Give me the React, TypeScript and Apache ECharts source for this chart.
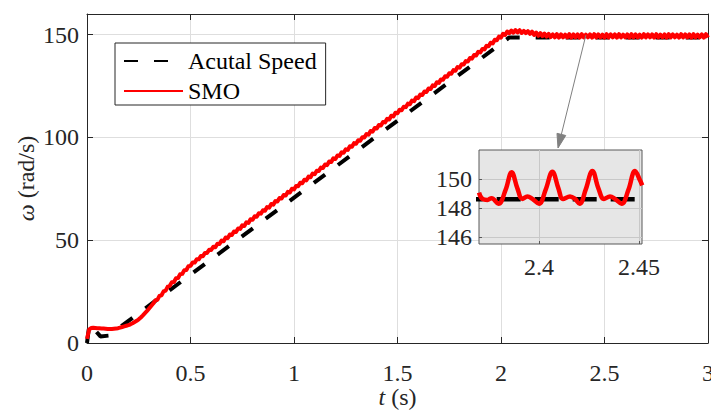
import React, { useEffect, useRef } from "react";
import * as echarts from "echarts";

// Reference speed profile (breakpoints of the commanded/actual speed, rad/s)
const actualTime = [0, 0.012, 0.065, 0.105, 2.04, 3];
const actualSpeed = [0, 9.3, 3.2, 3.6, 148.6, 148.6];

// SMO estimated speed, sampled every 0.01 s from t = 0 to t = 3 s
const smoStep = 0.01;
const smoSpeed = [
  2.0, 6.5, 7.3, 7.4, 7.3, 7.2, 7.2, 7.1, 7.0, 6.9,
  6.8, 6.8, 6.8, 6.9, 7.0, 7.2, 7.5, 7.8, 8.1, 8.4,
  8.7, 9.1, 9.6, 10.2, 10.8, 11.5, 12.4, 13.4, 14.5, 15.6,
  16.8, 18.0, 19.2, 20.7, 21.0, 22.9, 23.2, 25.1, 25.5, 27.4,
  27.8, 29.6, 29.7, 31.5, 31.6, 33.4, 33.6, 35.4, 35.5, 37.3,
  37.5, 39.1, 39.1, 40.7, 40.7, 42.3, 42.2, 43.8, 43.8, 45.3,
  45.2, 46.8, 46.6, 48.3, 48.1, 49.8, 49.5, 51.3, 51.0, 52.8,
  52.5, 54.2, 54.0, 55.7, 55.5, 57.2, 56.9, 58.7, 58.4, 60.2,
  59.9, 61.6, 61.4, 63.1, 62.9, 64.6, 64.3, 66.1, 65.8, 67.6,
  67.3, 69.0, 68.8, 70.5, 70.3, 72.0, 71.7, 73.5, 73.2, 75.0,
  74.7, 76.4, 76.2, 77.9, 77.7, 79.4, 79.1, 80.9, 80.6, 82.4,
  82.1, 83.8, 83.6, 85.3, 85.1, 86.8, 86.5, 88.3, 88.0, 89.8,
  89.5, 91.2, 91.0, 92.7, 92.5, 94.2, 93.9, 95.7, 95.4, 97.2,
  96.9, 98.6, 98.4, 100.1, 99.9, 101.6, 101.3, 103.1, 102.8, 104.6,
  104.3, 106.0, 105.8, 107.5, 107.3, 109.0, 108.7, 110.5, 110.2, 112.0,
  111.7, 113.4, 113.2, 114.9, 114.7, 116.4, 116.1, 117.9, 117.6, 119.4,
  119.1, 120.8, 120.6, 122.3, 122.1, 123.8, 123.5, 125.3, 125.0, 126.8,
  126.5, 128.2, 128.0, 129.7, 129.5, 131.2, 130.9, 132.7, 132.4, 134.2,
  133.9, 135.6, 135.4, 137.1, 136.9, 138.6, 138.3, 140.1, 139.8, 141.6,
  141.3, 143.0, 142.8, 144.5, 144.3, 146.0, 145.7, 147.5, 147.2, 149.0,
  148.5, 150.4, 149.8, 151.5, 150.7, 151.9, 150.9, 152.2, 151.0, 152.1,
  150.8, 151.8, 150.7, 151.7, 150.3, 151.4, 149.8, 151.0, 149.4, 150.7,
  149.2, 150.5, 149.0, 150.3, 148.8, 150.1, 148.6, 150.2, 148.5, 150.1,
  148.6, 150.0, 148.6, 150.2, 148.5, 150.1, 148.6, 150.1, 148.5, 150.2,
  148.6, 150.0, 148.6, 150.1, 148.5, 150.2, 148.6, 150.1, 148.6, 150.0,
  148.5, 150.2, 148.6, 150.1, 148.6, 150.1, 148.5, 150.2, 148.6, 150.0,
  148.6, 150.1, 148.5, 150.2, 148.6, 150.1, 148.6, 150.0, 148.5, 150.2,
  148.6, 150.1, 148.6, 150.1, 148.5, 150.2, 148.6, 150.0, 148.6, 150.1,
  148.5, 150.2, 148.6, 150.1, 148.6, 150.0, 148.5, 150.2, 148.6, 150.1,
  148.6, 150.1, 148.5, 150.2, 148.6, 150.0, 148.6, 150.1, 148.5, 150.2,
  148.6,
];

// Zoomed window 2.37 s .. 2.45 s of the SMO estimate
const insetTime = [
  2.37, 2.3717, 2.3742, 2.3763, 2.3797, 2.3833, 2.3863, 2.3892, 2.3917, 2.3942,
  2.3967, 2.4, 2.4033, 2.4067, 2.4097, 2.412, 2.4155, 2.418, 2.4203, 2.4233,
  2.4267, 2.4297, 2.4325, 2.4355, 2.438, 2.4413, 2.4447, 2.448, 2.4505, 2.4516,
];
const insetSmo = [
  149.06, 148.62, 148.55, 148.67, 148.28, 149.24, 150.46, 149.35, 148.62, 148.78,
  148.62, 148.28, 149.24, 150.5, 149.35, 148.62, 148.78, 148.62, 148.28, 149.24,
  150.55, 149.35, 148.62, 148.78, 148.62, 148.28, 149.24, 150.55, 149.9, 149.55,
];

const insetXTicks = [2.4, 2.45];
const insetYTicks = [146, 148, 150];

const FONT = "Liberation Serif";
const INK = "#262626";

export default function App() {
  const ref = useRef<HTMLDivElement>(null);

  useEffect(() => {
    if (!ref.current) return;
    const chart = echarts.init(ref.current, undefined, { renderer: "svg" });

    const actualData = actualTime.map((t, i) => [t, actualSpeed[i]]);
    const smoData = smoSpeed.map((v, i) => [Math.round(i * smoStep * 1000) / 1000, v]);
    const insetData = insetTime.map((t, i) => [t, insetSmo[i]]);

    const labelStyle = { fontFamily: FONT, fontSize: 24, color: INK };
    const nameRich = {
      i: { fontFamily: FONT, fontSize: 24, fontStyle: "italic", color: INK },
      n: { fontFamily: FONT, fontSize: 24, color: INK },
    };

    const boxAxis = {
      axisLine: { show: true, onZero: false, lineStyle: { color: INK, width: 1 } },
      axisTick: { show: true, inside: true, length: 6, lineStyle: { color: INK, width: 1 } },
    };

    chart.setOption({
      animation: false,
      backgroundColor: "#ffffff",
      textStyle: { fontFamily: FONT },
      grid: [
        { left: 87, right: 3, top: 14, bottom: 67, containLabel: false, outerBoundsMode: "none" },
        {
          left: 479, top: 150, width: 163, height: 94,
          containLabel: false, outerBoundsMode: "none",
          show: true, backgroundColor: "#e6e6e6",
          borderColor: "#595959", borderWidth: 1, z: 1,
        },
      ],
      legend: {
        data: ["Acutal Speed", "SMO"],
        orient: "vertical",
        left: 115,
        top: 43,
        padding: [6, 9, 2, 8],
        itemGap: 6,
        itemWidth: 59,
        itemHeight: 14,
        itemStyle: { opacity: 0 },
        backgroundColor: "#ffffff",
        borderColor: INK,
        borderWidth: 1,
        borderRadius: 0,
        textStyle: { fontFamily: FONT, fontSize: 24, color: "#000000" },
        selectedMode: false,
      },
      xAxis: [
        {
          type: "value", gridIndex: 0, min: 0, max: 3, interval: 0.5, position: "bottom",
          ...boxAxis,
          axisLabel: { ...labelStyle, margin: 18 },
          splitLine: { show: true, lineStyle: { color: "#dedede", width: 1 } },
          name: "{i|t}{n| (s)}",
          nameLocation: "middle",
          nameGap: 42,
          nameMoveOverlap: false,
          nameTextStyle: { ...labelStyle, rich: nameRich },
        },
        {
          type: "value", gridIndex: 0, min: 0, max: 3, interval: 0.5, position: "top",
          ...boxAxis,
          axisLabel: { show: false },
          splitLine: { show: false },
        },
        {
          type: "value", gridIndex: 1, min: 2.37, max: 2.4515, z: 2,
          axisLine: { show: false },
          axisTick: { show: true, inside: true, length: 3, customValues: insetXTicks, lineStyle: { color: "#595959" } },
          axisLabel: { ...labelStyle, margin: 11, customValues: insetXTicks },
          splitLine: { show: true, lineStyle: { color: "#c8c8c8", width: 1 } },
        },
      ],
      yAxis: [
        {
          type: "value", gridIndex: 0, min: 0, max: 160, interval: 50, position: "left",
          ...boxAxis,
          axisLabel: {
            ...labelStyle,
            margin: 8,
            formatter: (v: number) => (v % 50 === 0 ? String(v) : ""),
          },
          splitLine: { show: true, lineStyle: { color: "#dedede", width: 1 } },
          name: "{i|ω}{n| (rad/s)}",
          nameLocation: "middle",
          nameRotate: 90,
          nameGap: 49,
          nameMoveOverlap: false,
          nameTextStyle: { ...labelStyle, rich: nameRich },
        },
        {
          type: "value", gridIndex: 0, min: 0, max: 160, interval: 50, position: "right",
          ...boxAxis,
          axisLabel: { show: false },
          splitLine: { show: false },
        },
        {
          type: "value", gridIndex: 1, min: 145.5, max: 152, z: 2,
          axisLine: { show: false },
          axisTick: { show: true, inside: true, length: 3, customValues: insetYTicks, lineStyle: { color: "#595959" } },
          axisLabel: { ...labelStyle, margin: 7, customValues: insetYTicks },
          splitLine: { show: true, lineStyle: { color: "#c8c8c8", width: 1 } },
        },
      ],
      series: [
        {
          name: "Acutal Speed",
          type: "line",
          xAxisIndex: 0, yAxisIndex: 0,
          data: actualData,
          showSymbol: false, symbol: "none",
          lineStyle: { color: "#000000", width: 4, type: [14, 16] },
          itemStyle: { color: "#000000" },
          z: 2,
        },
        {
          name: "SMO",
          type: "line",
          xAxisIndex: 0, yAxisIndex: 0,
          data: smoData,
          showSymbol: false, symbol: "none",
          lineStyle: { color: "#ff0000", width: 4, join: "round" },
          itemStyle: { color: "#ff0000" },
          z: 3,
        },
        {
          name: "Acutal Speed (zoom)",
          type: "line",
          xAxisIndex: 2, yAxisIndex: 2,
          data: actualData,
          showSymbol: false, symbol: "none",
          lineStyle: { color: "#000000", width: 4.5, type: [24, 14] },
          z: 4,
        },
        {
          name: "SMO (zoom)",
          type: "line",
          xAxisIndex: 2, yAxisIndex: 2,
          data: insetData,
          smooth: 0.4,
          showSymbol: false, symbol: "none",
          lineStyle: { color: "#ff0000", width: 4.5 },
          z: 5,
        },
      ],
    });

    // Pointer from the steady-state trace to the zoomed window
    const from = chart.convertToPixel({ gridIndex: 0 }, [2.41, 149.7]) as number[];
    const top = chart.convertToPixel({ gridIndex: 1 }, [2.4095, 152]) as number[];
    const tip = [top[0], top[1] - 2];
    const dx = tip[0] - from[0];
    const dy = tip[1] - from[1];
    const len = Math.hypot(dx, dy);
    const ux = dx / len;
    const uy = dy / len;
    const headLen = 14;
    const headHalf = 4.5;
    const base = [tip[0] - ux * headLen, tip[1] - uy * headLen];
    chart.setOption({
      graphic: [
        {
          type: "line",
          z: 10,
          silent: true,
          shape: { x1: from[0], y1: from[1], x2: base[0], y2: base[1] },
          style: { stroke: "#808080", lineWidth: 1 },
        },
        {
          type: "polygon",
          z: 10,
          silent: true,
          shape: {
            points: [
              tip,
              [base[0] - uy * headHalf, base[1] + ux * headHalf],
              [base[0] + uy * headHalf, base[1] - ux * headHalf],
            ],
          },
          style: { fill: "#808080", stroke: "#808080", lineWidth: 1 },
        },
      ],
    });

    return () => chart.dispose();
  }, []);

  return (
    <div
      ref={ref}
      style={{ position: "fixed", left: 0, top: 0, width: 711, height: 410, background: "#ffffff" }}
    />
  );
}
